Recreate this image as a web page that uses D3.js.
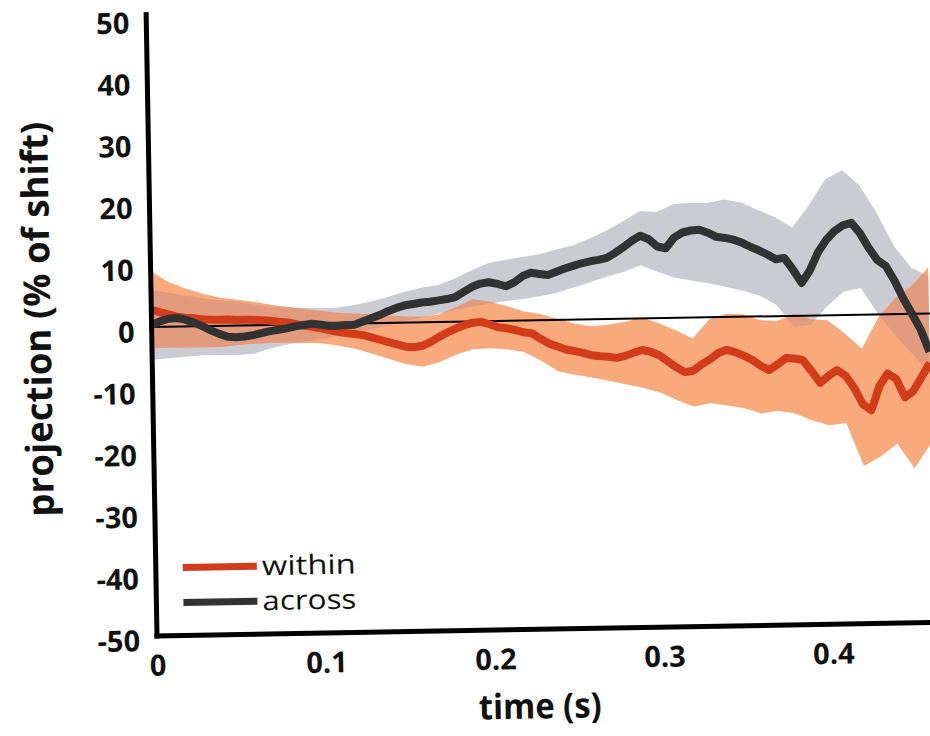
<!DOCTYPE html>
<html>
<head>
<meta charset="utf-8">
<script src="https://cdn.jsdelivr.net/npm/d3@7"></script>
<style>
  body { margin: 0; background: #fff; }
  text { font-family: "Open Sans", sans-serif; fill: #111; }
</style>
</head>
<body>
<svg id="chart"></svg>
<script>
// time grid for the mean traces (s)
var lineTime = [0,0.005,0.01,0.015,0.02,0.025,0.03,0.035,0.04,0.045,0.05,0.055,0.06,0.065,0.07,0.075,0.08,0.085,0.09,0.095,
  0.1,0.105,0.11,0.115,0.12,0.125,0.13,0.135,0.14,0.145,0.15,0.155,0.16,0.165,0.17,0.175,0.18,0.185,0.19,0.195,
  0.2,0.205,0.21,0.215,0.22,0.225,0.23,0.235,0.24,0.245,0.25,0.255,0.26,0.265,0.27,0.275,0.28,0.285,0.29,0.295,
  0.3,0.305,0.31,0.315,0.32,0.325,0.33,0.335,0.34,0.345,0.35,0.355,0.36,0.365,0.37,0.375,0.38,0.385,0.39,0.395,
  0.4,0.405,0.41,0.415,0.42,0.425,0.43,0.435,0.44,0.445,0.45,0.455,0.46];

var acrossMean = [0.3,0.9,1.3,1.4,1.1,0.6,0.0,-0.7,-1.3,-1.8,-1.9,-1.8,-1.6,-1.3,-1.0,-0.8,-0.6,-0.3,-0.1,0.1,
  -0.1,-0.3,-0.3,-0.2,-0.2,0.3,0.8,1.3,1.9,2.4,2.8,3.0,3.2,3.3,3.5,3.7,4.0,4.8,5.6,6.1,
  6.3,6.0,5.6,6.2,7.2,7.7,7.5,7.3,7.8,8.3,8.7,9.1,9.4,9.6,9.9,10.7,11.6,12.6,13.4,12.8,
  11.6,11.3,13.0,13.8,14.1,14.2,13.7,13.0,12.8,12.5,12.0,11.3,10.7,10.0,9.2,9.4,7.5,5.3,7.3,10.2,
  12.2,13.6,14.5,14.9,13.2,10.8,8.8,7.8,5.4,2.5,0.0,-2.6,-6.2];

var withinMean = [2.8,2.4,2.0,1.6,1.4,1.3,1.1,1.0,1.0,1.0,0.9,0.9,0.9,0.8,0.7,0.5,0.4,0.1,-0.2,-0.4,
  -0.7,-1.0,-1.3,-1.5,-1.7,-1.9,-2.3,-2.7,-3.1,-3.5,-3.9,-4.0,-3.8,-3.2,-2.4,-1.7,-1.1,-0.6,-0.2,-0.1,
  -0.5,-1.0,-1.2,-1.5,-1.9,-2.1,-3.0,-3.8,-4.3,-4.8,-5.1,-5.4,-5.8,-6.0,-6.1,-6.3,-6.0,-5.5,-5.1,-5.4,
  -6.0,-7.0,-8.0,-8.8,-8.6,-7.6,-6.8,-5.8,-5.3,-5.7,-6.3,-7.0,-8.0,-8.7,-7.8,-6.8,-6.9,-7.2,-9.0,-10.9,
  -9.8,-8.9,-9.8,-11.8,-14.5,-15.5,-11.6,-9.6,-10.5,-13.5,-12.5,-10.3,-8.0];

// time grid for the error bands (s)
var bandTime = [0,0.01,0.02,0.03,0.04,0.05,0.06,0.07,0.08,0.09,0.1,0.11,0.12,0.13,0.14,0.15,0.16,0.17,0.18,0.19,
  0.2,0.21,0.22,0.23,0.24,0.25,0.26,0.27,0.28,0.29,0.3,0.31,0.32,0.33,0.34,0.35,0.36,0.37,0.38,0.39,
  0.4,0.41,0.42,0.43,0.44,0.45,0.46];

var acrossHi = [6.0,5.5,5.0,4.5,4.2,3.8,3.4,3.0,2.8,2.7,2.6,2.6,3.0,3.5,4.2,5.0,5.6,6.0,7.0,8.3,
  9.4,9.9,10.3,10.7,11.4,12.0,13.1,14.3,15.8,17.4,17.2,18.4,18.6,18.5,19.0,18.5,17.2,16.0,14.3,17.8,
  22.0,23.4,21.0,16.5,11.0,7.5,6.0];
var acrossLo = [-5.3,-5.1,-4.9,-4.7,-4.7,-4.8,-4.6,-3.8,-3.2,-2.8,-2.4,-2.0,-1.5,-1.0,-0.4,0.3,0.8,1.4,1.9,2.4,
  2.8,3.2,3.5,3.9,4.4,5.2,6.0,6.9,7.6,8.6,7.5,6.5,6.0,5.5,4.9,4.2,3.4,1.8,-1.8,-1.5,
  1.5,3.8,4.3,0.0,-3.5,-6.5,-9.8];

var withinHi = [9.1,7.3,6.2,5.3,4.6,4.2,3.8,3.3,2.9,2.5,2.1,1.8,1.6,1.4,1.2,1.0,0.9,1.2,2.3,3.6,
  3.2,2.4,1.5,1.0,0.2,-0.6,-1.1,-0.9,-0.5,0.2,-0.8,-2.0,-3.4,-0.3,0.5,0.4,-0.6,-0.8,0.3,-0.6,
  -0.8,-3.0,-5.5,-0.5,2.5,4.5,7.4];
var withinLo = [-3.4,-3.4,-3.4,-3.4,-3.4,-3.2,-3.0,-2.9,-2.9,-3.0,-3.1,-3.5,-4.1,-4.9,-5.8,-6.7,-7.2,-6.5,-5.3,-4.5,
  -4.4,-4.6,-5.1,-6.5,-8.3,-8.9,-9.4,-10.0,-10.6,-11.2,-12.0,-13.3,-14.4,-13.9,-14.3,-14.8,-15.7,-15.3,-15.8,-17.0,
  -17.8,-17.5,-24.5,-23.0,-21.0,-25.0,-21.0];

var yTicks = [50,40,30,20,10,0,-10,-20,-30,-40,-50];
var xTicks = [0,0.1,0.2,0.3,0.4];
var xTickLabels = ["0","0.1","0.2","0.3","0.4"];
var seriesNames = ["within","across"];
var seriesColors = ["#d23c1b","#323232"];

// dimensions (the scanned figure is tilted about 1 degree)
var W = 930, H = 736;
var margin = {top: 18, left: 157},
    width = 845,
    height = 618;

var svg = d3.select("#chart")
    .attr("width", W)
    .attr("height", H);

var g = svg.append("g")
    .attr("transform", `rotate(-1, ${margin.left}, ${margin.top + height}) translate(${margin.left}, ${margin.top})`);

var x = d3.scaleLinear().domain([0, 0.5]).range([0, width]);
var y = d3.scaleLinear().domain([-50, 50]).range([height, 0]);

var bands = bandTime.map((t, i) => ({t: t, aHi: acrossHi[i], aLo: acrossLo[i], wHi: withinHi[i], wLo: withinLo[i]}));
var lines = lineTime.map((t, i) => ({t: t, a: acrossMean[i], w: withinMean[i]}));

var acrossArea = d3.area().x(d => x(d.t)).y0(d => y(d.aLo)).y1(d => y(d.aHi));
var withinArea = d3.area().x(d => x(d.t)).y0(d => y(d.wLo)).y1(d => y(d.wHi));

// clip used to tint the part where both bands overlap
g.append("clipPath").attr("id", "acrossClip")
  .append("path").attr("d", acrossArea(bands));

g.append("path").attr("d", acrossArea(bands)).attr("fill", "#cbcbd3");
g.append("path").attr("d", withinArea(bands)).attr("fill", "#f8aa7c");
g.append("path").attr("d", withinArea(bands)).attr("fill", "#e39b7d")
  .attr("clip-path", "url(#acrossClip)");

// zero line
g.append("line")
  .attr("x1", 0).attr("x2", width)
  .attr("y1", y(0)).attr("y2", y(0))
  .attr("stroke", "#000").attr("stroke-width", 2);

// mean traces
g.append("path")
  .attr("d", d3.line().x(d => x(d.t)).y(d => y(d.w))(lines))
  .attr("fill", "none").attr("stroke", seriesColors[0])
  .attr("stroke-width", 8).attr("stroke-linejoin", "round");
g.append("path")
  .attr("d", d3.line().x(d => x(d.t)).y(d => y(d.a))(lines))
  .attr("fill", "none").attr("stroke", seriesColors[1])
  .attr("stroke-width", 8).attr("stroke-linejoin", "round");

// axes
var yAxis = g.append("g")
  .call(d3.axisLeft(y).tickValues(yTicks).tickSize(0).tickPadding(17).tickFormat(d => String(d)));
yAxis.select(".domain").remove();
yAxis.selectAll("text")
  .attr("dy", "0.5em")
  .style("font-size", "29px").style("font-weight", "700").style("font-family", "'Open Sans', sans-serif")
  .attr("fill", "#111");

var xAxis = g.append("g")
  .attr("transform", `translate(0, ${height})`)
  .call(d3.axisBottom(x).tickValues(xTicks).tickSize(0).tickPadding(19).tickFormat((d, i) => xTickLabels[i]));
xAxis.select(".domain").remove();
xAxis.selectAll("text")
  .style("font-size", "29px").style("font-weight", "700").style("font-family", "'Open Sans', sans-serif")
  .attr("fill", "#111");

g.append("line")
  .attr("x1", 0).attr("x2", 0)
  .attr("y1", -6).attr("y2", height + 2.5)
  .attr("stroke", "#000").attr("stroke-width", 5);
g.append("line")
  .attr("x1", -2.5).attr("x2", width)
  .attr("y1", height).attr("y2", height)
  .attr("stroke", "#000").attr("stroke-width", 5);

// axis titles
g.append("text")
  .attr("x", x(0.226)).attr("y", height + 89)
  .attr("text-anchor", "middle")
  .attr("textLength", 123).attr("lengthAdjust", "spacingAndGlyphs")
  .style("font-size", "35px").style("font-weight", "700")
  .text("time (s)");

g.append("text")
  .attr("transform", `translate(-101, ${y(1.6)}) rotate(-90)`)
  .attr("text-anchor", "middle")
  .attr("textLength", 395).attr("lengthAdjust", "spacingAndGlyphs")
  .style("font-size", "37px").style("font-weight", "700")
  .text("projection (% of shift)");

// legend
var legend = g.append("g").attr("transform", `translate(27, ${height - 68})`);
seriesNames.forEach(function(name, i) {
  legend.append("line")
    .attr("x1", 0).attr("x2", 74)
    .attr("y1", i * 35).attr("y2", i * 35)
    .attr("stroke", seriesColors[i]).attr("stroke-width", 7);
  legend.append("text")
    .attr("x", 79).attr("y", i * 35 + 9)
    .attr("textLength", 94).attr("lengthAdjust", "spacingAndGlyphs")
    .style("font-size", "27px")
    .text(name);
});
</script>
</body>
</html>
